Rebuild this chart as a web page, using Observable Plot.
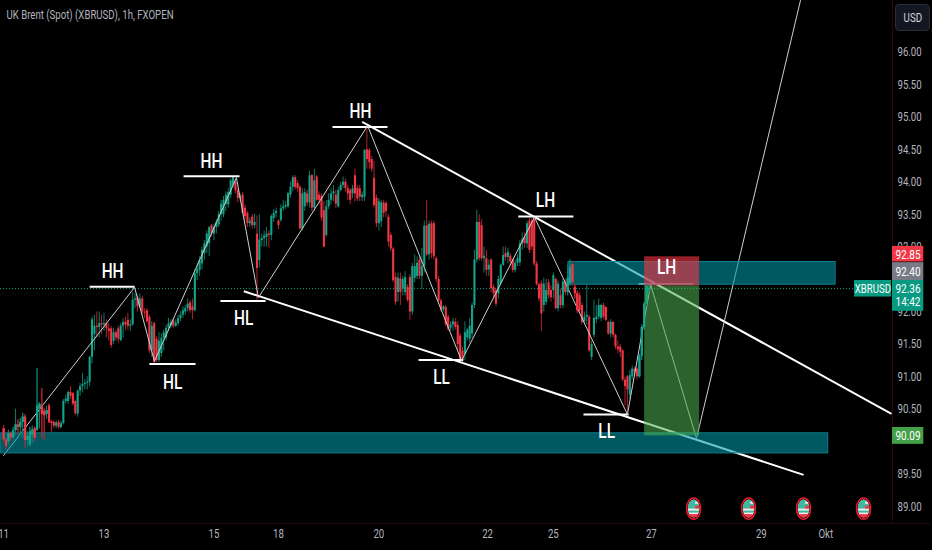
<!DOCTYPE html>
<html>
<head>
<meta charset="utf-8">
<script src="https://cdn.jsdelivr.net/npm/d3@7"></script>
<script src="https://cdn.jsdelivr.net/npm/@observablehq/plot@0.6"></script>
<style>
html,body{margin:0;padding:0;background:#000;overflow:hidden}
#chart{position:relative;width:932px;height:550px}
#usd{position:absolute;left:895px;top:4px;width:33px;height:25px;border:1px solid #2a2e39;border-radius:4px;background:#131722;color:#d1d4dc;font:12.5px Roboto,sans-serif;line-height:25px;text-align:center}
#usd span{display:inline-block;transform:scaleX(.78)}
</style>
</head>
<body>
<div id="chart"><div id="usd"><span>USD</span></div></div>
<script>
const opens = [
90.20,90.03,90.00,90.13,90.06,90.17,90.26,90.22,90.30,90.38,
90.02,89.95,90.10,90.20,90.18,90.50,90.56,90.47,90.42,90.55,
90.30,90.30,90.24,90.30,90.22,90.28,90.62,90.62,90.76,90.74,
90.62,90.43,90.78,90.85,90.88,90.90,90.92,91.30,91.65,91.78,
91.76,91.82,91.80,91.82,91.74,91.74,91.55,91.68,91.74,91.56,
91.78,91.84,91.87,91.78,91.80,92.18,92.22,92.08,92.20,92.00,
92.02,91.92,91.40,91.82,91.58,91.25,91.36,91.59,91.60,91.75,
91.78,91.86,91.78,91.82,91.90,91.95,92.00,92.05,92.14,92.08,
92.02,92.59,92.64,92.74,92.90,93.00,93.05,93.33,93.20,93.30,
93.34,93.50,93.50,93.66,93.65,93.80,93.95,94.00,93.87,93.75,
93.80,93.60,93.52,93.36,93.46,93.33,93.20,92.79,93.10,93.13,
93.15,93.20,93.18,93.44,93.52,93.40,93.41,93.59,93.62,93.62,
93.80,93.92,94.07,93.98,93.92,93.28,93.62,93.82,93.68,94.10,
93.60,94.08,93.80,93.78,93.56,93.18,93.62,93.72,93.82,93.80,
93.62,93.87,93.95,94.00,93.90,93.87,93.82,94.10,93.90,93.90,
93.76,93.77,94.50,94.49,94.35,94.06,93.75,93.36,93.39,93.68,
93.67,93.46,93.18,92.97,92.53,92.30,92.51,92.35,92.30,92.38,
92.53,92.00,92.52,92.55,92.80,92.55,92.70,93.33,92.88,93.36,
93.36,92.82,92.50,92.17,92.03,92.07,91.92,91.75,91.80,91.84,
91.79,91.63,91.40,91.35,91.60,91.58,91.66,92.10,92.80,93.38,
93.33,92.82,92.82,92.65,92.80,92.38,92.33,92.28,92.44,92.72,
92.90,92.84,92.86,92.80,92.64,92.75,92.76,93.05,93.15,93.05,
93.40,93.40,93.42,92.74,92.42,92.43,92.10,92.15,92.45,92.33,
92.33,92.50,92.05,92.25,92.10,92.46,92.30,92.43,92.73,92.38,
92.28,92.25,92.10,91.85,91.92,91.92,91.30,91.64,91.88,91.92,
91.90,92.10,92.07,91.84,91.66,91.84,91.64,91.46,91.46,91.40,
90.95,91.00,90.72,91.00,91.12,91.12,91.00,91.32,91.76,92.12,92.33];
const closes = [
90.03,89.93,90.13,90.06,90.17,90.26,90.22,90.30,90.38,90.02,
90.08,90.15,90.18,90.05,90.55,90.58,90.42,90.40,90.48,90.30,
90.28,90.24,90.29,90.22,90.28,90.62,90.66,90.76,90.70,90.58,
90.43,90.78,90.85,90.88,90.90,90.92,91.30,91.88,91.78,91.76,
91.82,91.80,91.82,91.74,91.70,91.48,91.68,91.60,91.58,91.78,
91.84,91.80,91.78,91.80,92.18,92.20,92.08,92.20,92.00,91.98,
91.85,91.40,91.78,91.22,91.25,91.55,91.59,91.68,91.75,91.82,
91.84,91.78,91.83,91.90,91.95,92.02,92.05,92.12,92.02,92.02,
92.59,92.66,92.79,92.95,93.05,93.20,93.30,93.20,93.30,93.38,
93.50,93.66,93.72,93.80,93.84,94.02,94.08,93.87,93.75,93.78,
93.52,93.47,93.36,93.40,93.33,93.38,92.67,93.11,93.13,93.17,
93.20,93.18,93.47,93.52,93.55,93.33,93.59,93.62,93.64,93.82,
93.92,94.07,93.92,93.90,93.28,93.82,93.84,93.68,94.10,93.60,
94.02,93.72,93.72,93.45,93.00,93.62,93.72,93.82,93.85,93.66,
93.87,93.95,94.00,93.90,93.82,93.72,93.90,93.82,93.74,93.77,
93.80,94.49,94.35,94.30,94.20,93.64,93.36,93.70,93.68,93.52,
93.55,93.08,92.97,92.48,92.15,92.52,92.30,92.50,92.53,92.18,
92.00,92.70,92.70,92.75,92.55,92.70,93.32,92.88,93.35,92.90,
92.85,92.50,92.17,92.03,92.08,91.80,91.73,91.80,91.85,91.76,
91.50,91.25,91.25,91.68,91.72,91.78,92.10,92.80,93.38,92.82,
92.82,92.86,92.64,92.72,92.36,92.28,92.12,92.50,92.72,92.87,
92.84,92.92,92.77,92.64,92.75,92.82,93.05,93.12,93.05,93.36,
92.95,93.00,92.74,92.42,92.20,91.97,92.43,92.33,92.25,92.22,
92.56,92.05,92.43,92.10,92.46,92.30,92.52,92.69,92.45,92.28,
92.02,92.02,91.84,91.92,91.95,91.40,91.50,91.90,91.92,92.10,
92.10,91.92,91.87,91.66,91.84,91.64,91.46,91.42,91.38,90.95,
90.85,90.80,91.02,91.12,91.07,91.00,91.32,91.76,92.12,92.40,92.36];
const highs = [
90.25,90.05,90.18,90.15,90.22,90.50,90.34,90.36,90.44,90.42,
90.15,90.22,90.24,90.23,91.13,90.60,90.82,90.52,90.55,90.58,
90.33,90.32,90.32,90.33,90.32,90.65,90.72,90.78,90.85,90.76,
90.64,90.80,90.90,91.05,90.96,91.00,91.32,91.92,91.95,92.00,
92.00,91.95,91.98,91.88,91.82,91.78,91.75,91.72,91.78,91.82,
91.90,91.92,91.98,91.88,92.30,92.28,92.26,92.28,92.24,92.05,
92.05,91.95,91.85,91.84,91.62,91.68,91.66,91.72,91.80,91.90,
91.88,91.90,91.88,91.95,92.00,92.08,92.10,92.20,92.18,92.20,
92.65,92.75,92.85,93.00,93.10,93.25,93.32,93.35,93.35,93.42,
93.55,93.72,93.78,93.85,93.90,94.05,94.09,94.02,93.90,93.82,
93.84,93.65,93.55,93.45,93.50,93.50,93.48,93.50,93.20,93.25,
93.30,93.25,93.50,93.58,93.60,93.42,93.65,93.72,93.70,93.85,
94.00,94.10,94.10,94.02,93.95,93.90,93.90,93.88,94.17,94.12,
94.20,94.10,93.85,93.82,93.70,93.72,93.82,93.90,93.95,93.88,
93.92,94.00,94.08,94.05,93.95,93.90,93.95,94.20,93.95,93.95,
93.85,94.50,94.90,94.52,94.40,94.32,93.80,93.75,93.72,93.72,
93.70,93.50,93.22,93.00,92.60,92.60,92.60,92.55,92.62,92.42,
92.58,92.75,92.88,92.85,92.85,92.98,93.40,93.72,93.40,93.40,
93.40,92.85,92.55,92.20,92.10,92.10,91.95,91.85,91.90,91.90,
91.85,91.67,91.45,91.85,91.75,91.90,92.14,92.95,93.57,93.50,
93.42,93.00,92.95,92.80,92.82,92.42,92.36,92.55,92.74,93.00,
93.00,92.98,92.90,92.82,92.80,92.88,93.10,93.22,93.22,93.40,
93.44,93.44,93.46,92.78,92.45,92.48,92.52,92.50,92.50,92.40,
92.60,92.52,92.48,92.35,92.50,92.50,92.72,92.80,92.78,92.42,
92.32,92.30,92.14,92.00,92.43,91.95,91.55,92.18,92.10,92.20,
92.12,92.14,92.08,91.86,91.88,91.85,91.66,91.55,91.50,91.42,
91.00,91.02,91.10,91.17,91.15,91.15,91.35,91.80,92.15,92.42,92.42];
const lows = [
89.98,89.87,89.95,90.00,90.03,90.10,90.10,90.12,90.05,89.90,
89.93,89.92,89.97,90.00,90.16,90.20,90.05,90.02,90.35,90.28,
90.15,90.20,90.20,90.19,90.20,90.26,90.58,90.58,90.65,90.55,
90.40,90.38,90.70,90.75,90.80,90.80,90.85,91.20,91.40,91.60,
91.60,91.65,91.70,91.60,91.55,91.44,91.50,91.55,91.52,91.54,
91.60,91.72,91.72,91.70,91.78,92.05,92.00,92.05,91.95,91.90,
91.82,91.36,91.30,91.20,91.22,91.22,91.30,91.40,91.55,91.70,
91.74,91.74,91.76,91.78,91.85,91.90,91.95,92.00,91.98,91.88,
92.00,92.48,92.55,92.65,92.80,92.90,92.85,93.15,93.10,93.20,
93.30,93.40,93.45,93.55,93.60,93.75,93.90,93.82,93.68,93.70,
93.50,93.42,93.30,93.30,93.28,93.28,92.18,92.68,93.00,93.00,
93.00,92.98,93.10,93.38,93.45,93.27,93.38,93.55,93.58,93.60,
93.75,93.85,93.88,93.85,93.26,93.25,93.55,93.62,93.60,93.55,
93.55,93.70,93.65,93.40,92.99,93.15,93.58,93.65,93.70,93.60,
93.60,93.85,93.90,93.85,93.72,93.65,93.75,93.70,93.70,93.70,
93.70,93.70,94.20,94.20,94.15,93.60,93.30,93.25,93.30,93.45,
93.45,93.00,92.93,92.45,92.10,92.15,92.10,92.25,92.25,92.15,
91.87,91.95,92.45,92.50,92.50,92.35,92.60,92.85,92.80,92.82,
92.80,92.45,92.15,92.00,92.00,91.77,91.70,91.70,91.70,91.72,
91.40,91.22,91.22,91.25,91.55,91.52,91.60,92.05,92.75,92.78,
92.78,92.60,92.55,92.55,92.30,92.20,92.08,92.20,92.40,92.70,
92.78,92.75,92.72,92.60,92.60,92.70,92.70,92.95,92.98,92.98,
92.90,92.95,92.70,92.40,92.15,91.70,92.00,92.10,92.20,92.15,
92.20,92.03,92.00,92.05,92.05,92.25,92.25,92.40,92.40,92.20,
91.98,91.98,91.80,91.80,91.80,91.38,91.25,91.60,91.82,91.88,
91.85,91.88,91.85,91.64,91.60,91.60,91.42,91.36,91.30,90.92,
90.55,90.45,90.65,90.95,91.00,90.95,90.98,91.25,91.72,92.08,92.30];

// Zigzag swing path: bar number and price at each pivot
const zigBars   = [0,54.8,63.1,97.4,106.6,152.3,191.6,222.1,261,270.7,289.9,333.4];
const zigPrices = [89.79,92.38,91.24,94.07,92.22,94.87,91.25,93.46,90.42,92.42,90.05,96.8];

// Thick trend lines
const trendBar1   = [150,100.5];
const trendPrice1 = [94.93,92.32];
const trendBar2   = [371.5,334.7];
const trendPrice2 = [90.43,89.49];

// Horizontal swing levels
const levelStart = [36,61,75.3,90.7,137.6,173.6,215.3,242.6,265.7];
const levelEnd   = [54.8,80.3,98.7,109.6,160.6,192.3,238.4,261.5,288.7];
const levelPrice = [92.39,91.2,94.09,92.17,94.85,91.26,93.47,90.42,92.43];

// Swing labels
const swingText  = ["HH","HL","HH","HL","HH","LL","LH","LL","LH"];
const swingBar   = [45.6,70.7,87,100.4,149.3,183.2,226.7,252.3,277.4];
const swingPrice = [92.62,90.91,94.32,91.90,95.09,90.99,93.72,90.16,92.68];

// Supply / demand zones
const zoneStart = [236.3,-1.3];
const zoneEnd   = [348.1,345];
const zoneTop   = [92.77,90.13];
const zoneBot   = [92.42,89.82];

// Short position box
const posStart = 268.2, posEnd = 291.2;
const stopPrice = 92.85, entryPrice = 92.40, targetPrice = 90.09, lastPrice = 92.36;

// Axis values (92.50 and 90.00 sit fully behind the price tags in the reference)
const priceTicks = [89,89.5,90.5,91,91.5,92,93,93.5,94,94.5,95,95.5,96];
const dayBars   = [0,42,88,115,157,202.5,230,271,317,344];
const dayLabels = ["11","13","15","18","20","22","25","27","29","Okt"];

// Economic event flags
const flagBars = [288.7,311.7,334.7,359.8];
const flagPrice = 88.97;

// Price tags on the axis
const tagText  = ["92.85","92.40","92.36","14:42","90.09"];
const tagCentre= [92.885,92.62,92.36,92.15,90.09];
const boxTop   = [93.01,92.76,92.485,90.22];
const boxBot   = [92.77,92.485,92.01,89.96];
const boxColor = ["#f23645","#787b86","#089981","#43a047"];

const FONT = 'Roboto,sans-serif';
const SQUEEZE = 0.77;
const GREEN = "#12a388", RED = "#f23645", GREENW = "#0e7a69", REDW = "#b0222f";

const bars = opens.map((o,i)=>({i,o,c:closes[i],h:highs[i],l:lows[i],up:closes[i]>=o}));
const zig = zigBars.map((b,k)=>({b,p:zigPrices[k]}));
const trends = trendBar1.map((b,k)=>({x1:b,y1:trendPrice1[k],x2:trendBar2[k],y2:trendPrice2[k]}));
const levels = levelStart.map((s,k)=>({s,e:levelEnd[k],p:levelPrice[k]}));
const swings = swingText.map((t,k)=>({t,b:swingBar[k],p:swingPrice[k]}));
const zones = zoneStart.map((s,k)=>({s,e:zoneEnd[k],t:zoneTop[k],b:zoneBot[k]}));
const tags = tagText.map((t,k)=>({t,p:tagCentre[k]}));
const boxes = boxTop.map((t,k)=>({t,b:boxBot[k],c:boxColor[k]}));

const flagSvg = 'data:image/svg+xml;utf8,' + encodeURIComponent(
 '<svg xmlns="http://www.w3.org/2000/svg" width="16" height="24" viewBox="0 0 16 24">'+
 '<defs><clipPath id="c"><ellipse cx="8" cy="12" rx="5.8" ry="9"/></clipPath></defs>'+
 '<g clip-path="url(#c)"><rect width="16" height="24" fill="#eeeeee"/>'+
 '<rect x="0" y="2" width="16" height="10" fill="#3fb8a0"/>'+
 '<rect x="9.5" y="5" width="7" height="2.2" fill="#eeeeee"/>'+
 '<rect x="9.5" y="9" width="7" height="3" fill="#f23645"/>'+
 '<rect x="0" y="14" width="16" height="2" fill="#3fb8a0"/>'+
 '<rect x="0" y="17.5" width="16" height="5" fill="#f23645"/></g>'+
 '<ellipse cx="8" cy="12" rx="7" ry="10.6" fill="none" stroke="#f0172c" stroke-width="1.6"/></svg>');

const candleMarks = data => [
  Plot.ruleX(data,{x:"i",y1:"l",y2:"h",stroke:d=>d.up?GREENW:REDW,strokeWidth:1}),
  Plot.ruleX(data,{x:"i",y1:"o",y2:"c",stroke:d=>d.up?GREEN:RED,strokeWidth:2.1})
];

const chart = Plot.plot({
  width:932,height:550,
  marginTop:0,marginLeft:0,marginRight:40,marginBottom:27,
  x:{type:"linear",domain:[-1.3,371.9],range:[0,892]},
  y:{type:"linear",domain:[88.74,96.8],range:[523,0]},
  style:{background:"#000",fontFamily:FONT,overflow:"visible"},
  marks:[
    Plot.ruleY([lastPrice],{x1:-1.3,x2:356,stroke:"#12a388",strokeDasharray:"1,2",strokeWidth:1}),
    ...candleMarks(bars),
    Plot.link(trends,{x1:"x1",y1:"y1",x2:"x2",y2:"y2",stroke:"#fff",strokeWidth:2}),
    Plot.link(levels,{x1:"s",x2:"e",y1:"p",y2:"p",stroke:"#fff",strokeWidth:2}),
    Plot.line(zig,{x:"b",y:"p",stroke:"#cfcfcf",strokeWidth:1,clip:true}),
    Plot.rect(zones,{x1:"s",x2:"e",y1:"b",y2:"t",fill:"#0097a7",fillOpacity:0.58,stroke:"#0e7d8c",strokeWidth:1}),
    Plot.rect([0],{x1:posStart,x2:posEnd,y1:entryPrice,y2:stopPrice,fill:"#f23645",fillOpacity:0.62}),
    Plot.rect([0],{x1:posStart,x2:posEnd,y1:targetPrice,y2:entryPrice,fill:"#4caf50",fillOpacity:0.56}),
    ...candleMarks(bars.filter(d=>d.i<=20||(d.i>=236&&d.i<=240)||d.i>=266)),
    Plot.text(swings,{x:"b",y:"p",text:"t",fill:"#fff",fontSize:20,fontWeight:500,fontFamily:FONT}),
    Plot.image(flagBars,{x:d=>d,y:()=>flagPrice,src:()=>flagSvg,width:16,height:24}),
    Plot.ruleX([371.9],{stroke:"#2a0a10",strokeWidth:1}),
    Plot.ruleY([88.74],{stroke:"#2a0a10",strokeWidth:1,x1:-1.3,x2:388}),
    Plot.axisY(priceTicks,{anchor:"right",tickSize:0,tickPadding:5,tickFormat:d3.format(".2f"),fontSize:12.5,fill:"#b2b5be",label:null}),
    Plot.axisX(dayBars,{anchor:"bottom",tickSize:0,tickPadding:6,tickFormat:(d,k)=>dayLabels[k],fontSize:12.5,fill:"#b2b5be",label:null}),
    Plot.rect(boxes,{x1:371.9,x2:385,y1:"b",y2:"t",fill:"c"}),
    Plot.rect([0],{x1:356,x2:371.5,y1:92.485,y2:92.23,fill:"#089981"}),
    Plot.text(tags,{x:378.4,y:"p",text:"t",fill:"#fff",fontSize:13,fontFamily:FONT}),
    Plot.text(["XBRUSD"],{x:363.7,y:()=>lastPrice,text:d=>d,fill:"#fff",fontSize:12.5,fontFamily:FONT}),
    Plot.text(["UK Brent (Spot) (XBRUSD), 1h, FXOPEN"],{frameAnchor:"top-left",dx:6,dy:10,text:d=>d,fill:"#b2b5be",fontSize:12.5,fontFamily:FONT})
  ]
});
document.getElementById("chart").prepend(chart);
// The reference's lettering is condensed: squeeze each label horizontally while keeping it real text.
chart.querySelectorAll("text").forEach(el=>{
  const len = el.getComputedTextLength();
  if (len>0) { el.setAttribute("textLength",(len*SQUEEZE).toFixed(1)); el.setAttribute("lengthAdjust","spacingAndGlyphs"); }
});
</script>
</body>
</html>
